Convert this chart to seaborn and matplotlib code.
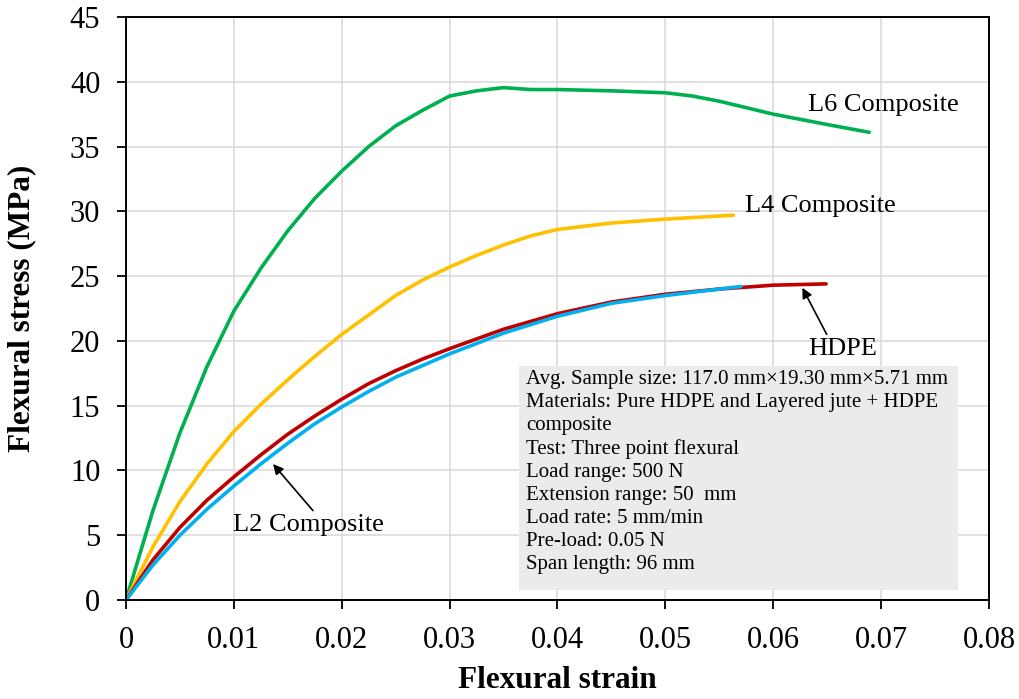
import numpy as np
import pandas as pd
import matplotlib
matplotlib.use("Agg")
import matplotlib.pyplot as plt
import seaborn as sns
from matplotlib.patches import Rectangle

# values (strain, stress in MPa)
l6_strain = [0, 0.0025, 0.005, 0.0075, 0.01, 0.0125, 0.015, 0.0175, 0.02, 0.0225,
             0.025, 0.0275, 0.03, 0.0325, 0.035, 0.0375, 0.04, 0.045, 0.05, 0.0525,
             0.055, 0.0575, 0.06, 0.0625, 0.065, 0.0689]
l6_stress = [0, 6.9, 12.9, 18.0, 22.3, 25.6, 28.5, 31.0, 33.1, 35.0,
             36.6, 37.8, 38.9, 39.3, 39.55, 39.4, 39.4, 39.3, 39.15, 38.9,
             38.5, 38.0, 37.5, 37.1, 36.7, 36.1]

l4_strain = [0, 0.0025, 0.005, 0.0075, 0.01, 0.0125, 0.015, 0.0175, 0.02, 0.0225,
             0.025, 0.0275, 0.03, 0.0325, 0.035, 0.0375, 0.04, 0.045, 0.05, 0.0563]
l4_stress = [0, 4.1, 7.6, 10.5, 13.0, 15.1, 17.0, 18.8, 20.5, 22.0,
             23.5, 24.7, 25.7, 26.6, 27.4, 28.1, 28.6, 29.1, 29.4, 29.7]

hdpe_strain = [0, 0.0025, 0.005, 0.0075, 0.01, 0.0125, 0.015, 0.0175, 0.02, 0.0225,
               0.025, 0.0275, 0.03, 0.035, 0.04, 0.045, 0.05, 0.055, 0.06, 0.0649]
hdpe_stress = [0, 3.1, 5.6, 7.7, 9.5, 11.2, 12.8, 14.2, 15.5, 16.7,
               17.7, 18.6, 19.4, 20.9, 22.1, 23.0, 23.6, 24.0, 24.3, 24.4]

l2_strain = [0, 0.0025, 0.005, 0.0075, 0.01, 0.0125, 0.015, 0.0175, 0.02, 0.0225,
             0.025, 0.0275, 0.03, 0.035, 0.04, 0.045, 0.05, 0.055, 0.057]
l2_stress = [0, 2.7, 5.0, 7.0, 8.8, 10.5, 12.1, 13.6, 14.9, 16.1,
             17.2, 18.1, 19.0, 20.6, 21.9, 22.9, 23.5, 24.0, 24.2]

series_names = ["L6 Composite", "L4 Composite", "HDPE", "L2 Composite"]
series_colors = ["#00B050", "#FFC000", "#C00000", "#00B0F0"]

info_lines = [
    "Avg. Sample size: 117.0 mm\u00d719.30 mm\u00d75.71 mm",
    "Materials: Pure HDPE and Layered jute + HDPE",
    "composite",
    "Test: Three point flexural",
    "Load range: 500 N",
    "Extension range: 50  mm",
    "Load rate: 5 mm/min",
    "Pre-load: 0.05 N",
    "Span length: 96 mm",
]

frames = []
for name, xs, ys in zip(series_names,
                        [l6_strain, l4_strain, hdpe_strain, l2_strain],
                        [l6_stress, l4_stress, hdpe_stress, l2_stress]):
    frames.append(pd.DataFrame({"strain": xs, "stress": ys, "series": name}))
df = pd.concat(frames, ignore_index=True)

sns.set_theme(style="ticks")
plt.rcParams["font.family"] = ["Liberation Serif", "DejaVu Serif"]
plt.rcParams["text.color"] = "black"
plt.rcParams["axes.labelcolor"] = "black"

fig = plt.figure(figsize=(10.2, 6.99), dpi=100)
ax = fig.add_axes([0.1235, 0.1416, 0.8461, 0.8341])

sns.lineplot(data=df, x="strain", y="stress", hue="series", hue_order=series_names,
             palette=series_colors, estimator=None, sort=False, linewidth=2.6,
             legend=False, ax=ax, solid_joinstyle="round", solid_capstyle="round")

ax.set_xlim(0, 0.08)
ax.set_ylim(0, 45)
ax.set_xticks(np.arange(0, 0.081, 0.01))
ax.set_xticklabels(["0", "0.01", "0.02", "0.03", "0.04", "0.05", "0.06", "0.07", "0.08"])
ax.set_yticks(np.arange(0, 46, 5))
ax.tick_params(axis="both", labelsize=22, length=6.5, width=1.3, direction="out",
               color="black", labelcolor="black", pad=12)
ax.grid(True, color="#D9D9D9", linewidth=1.1)
ax.set_axisbelow(True)
for s in ax.spines.values():
    s.set_color("black")
    s.set_linewidth(1.4)

ax.set_xlabel("Flexural strain", fontsize=22.5, fontweight="bold", labelpad=8)
ax.set_ylabel("Flexural stress (MPa)", fontsize=22.5, fontweight="bold", labelpad=24)

lab_kw = dict(fontsize=19, color="black")
ax.text(0.0632, 38.2, "L6 Composite", va="center", **lab_kw)
ax.text(0.0574, 30.4, "L4 Composite", va="center", **lab_kw)
ax.annotate("HDPE", xy=(0.0627, 24.1), xytext=(0.0632, 19.4), va="center",
            arrowprops=dict(arrowstyle="-|>", color="black", lw=1.2, mutation_scale=15,
                            shrinkA=0, shrinkB=0, relpos=(0.3, 1.0)), **lab_kw)
ax.annotate("L2 Composite", xy=(0.01363, 10.5), xytext=(0.0099, 5.8), va="center",
            arrowprops=dict(arrowstyle="-|>", color="black", lw=1.2, mutation_scale=15,
                            shrinkA=0, shrinkB=0, relpos=(0.55, 1.0)), **lab_kw)

ax.add_patch(Rectangle((0.0364, 0.8), 0.0407, 17.3, facecolor="#EBEBEB",
                       edgecolor="none", zorder=3))
ax.text(0.0371, 17.75, "\n".join(info_lines), va="top", ha="left", fontsize=15,
        linespacing=1.28, color="black", zorder=4)

fig.savefig("out.png", dpi=100)
